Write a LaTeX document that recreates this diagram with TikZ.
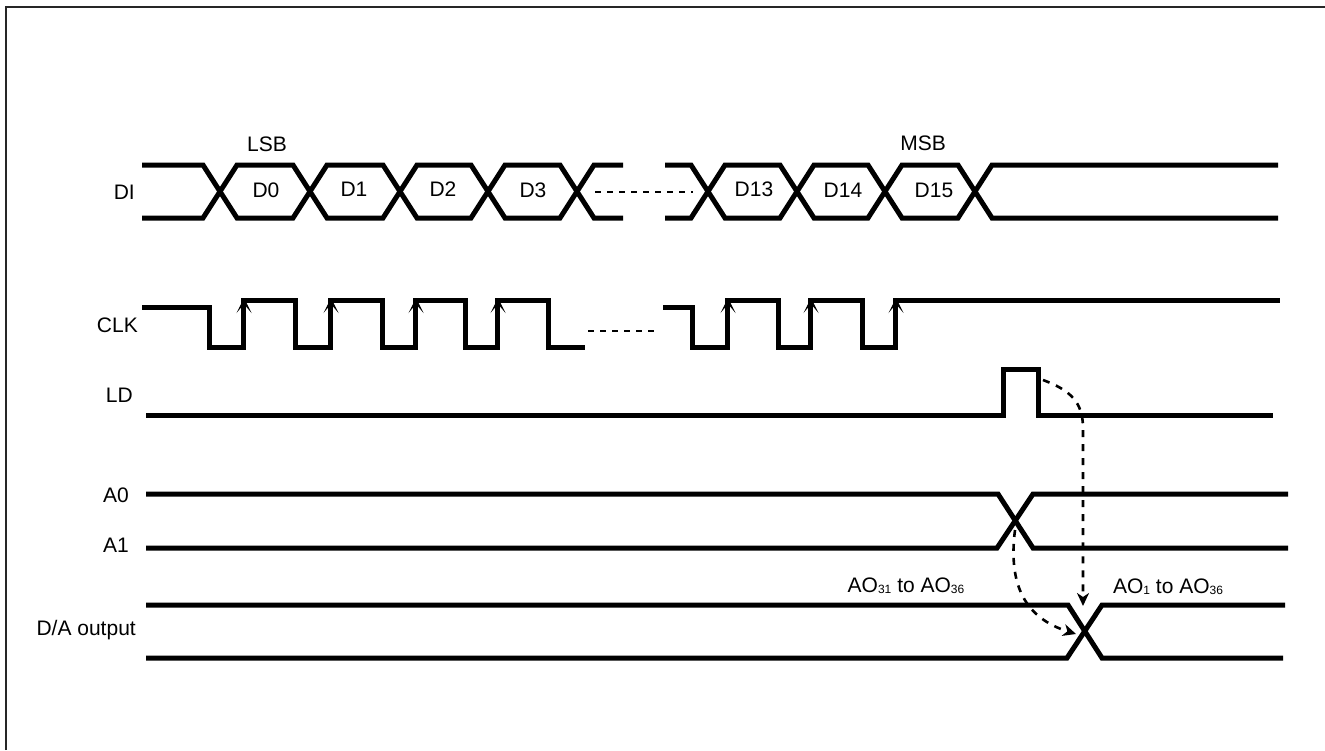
\documentclass[tikz,border=0pt]{standalone}
\usepackage{fontspec}
\setmainfont{Liberation Sans}
\usetikzlibrary{arrows.meta}
\tikzset{
  wave/.style={line width=5pt, line join=miter},
  lbl/.style={font=\fontsize{21}{25}\selectfont, inner sep=0pt},
  gap/.style={line width=1.8pt, dash pattern=on 6pt off 6pt},
  flow/.style={line width=2.6pt, dash pattern=on 7pt off 7pt, -{Stealth[length=13pt,width=12pt,inset=4pt]}},
  edgearrow/.style={line width=1pt, -{Stealth[length=15pt,width=15pt,inset=9pt]}},
  frame/.style={line width=2pt, black!85}
}
\newcommand{\subsc}[1]{\raisebox{-1pt}{\fontsize{12}{13}\selectfont #1}}
\begin{document}
\begin{tikzpicture}[x=1pt,y=-1pt]
\useasboundingbox (0,0) rectangle (1325,750);
\draw[frame] (6,750) -- (6,7) -- (1325,7);

% labels
\node[lbl, anchor=east] (lDI) at (135,192) {DI};
\node[lbl, anchor=east] (lCLK) at (138,325) {CLK};
\node[lbl, anchor=east] (lLD) at (133,395) {LD};
\node[lbl, anchor=east] (lA0) at (129,495) {A0};
\node[lbl, anchor=east] (lA1) at (129,545) {A1};
\node[lbl, anchor=east] (lDA) at (136,630) {D/A output};
\node[lbl] (lsb) at (267,144) {LSB};
\node[lbl] (msb) at (923,143) {MSB};
\node[lbl] (d0) at (266,190) {D0};
\node[lbl] (d1) at (354,189) {D1};
\node[lbl] (d2) at (443,189) {D2};
\node[lbl] (d3) at (533,190) {D3};
\node[lbl] (d13) at (754,189) {D13};
\node[lbl] (d14) at (843,190) {D14};
\node[lbl] (d15) at (934,190) {D15};
\node[lbl] (ao31) at (906,586) {AO\subsc{31} to AO\subsc{36}};
\node[lbl] (ao1) at (1168,587) {AO\subsc{1} to AO\subsc{36}};

% DI
\draw[wave] (142,165)--(203,165)--(237,218)--(293,218)--(327,165)--(383,165)--(417,218)--(471,218)--(505,165)--(560,165)--(594,218)--(623,218);
\draw[wave] (142,218)--(203,218)--(237,165)--(293,165)--(327,218)--(383,218)--(417,165)--(471,165)--(505,218)--(560,218)--(594,165)--(623,165);
\draw[wave] (665,165)--(691,165)--(725,218)--(780,218)--(814,165)--(868,165)--(902,218)--(958,218)--(992,165)--(1278,165);
\draw[wave] (665,218)--(691,218)--(725,165)--(780,165)--(814,218)--(868,218)--(902,165)--(958,165)--(992,218)--(1278,218);
\coordinate (digapA) at (595,192);
\coordinate (digapB) at (693,192);
\draw[gap] (digapA) -- (digapB);

% CLK
\draw[wave] (142,307)--(209,307)--(209,347)--(243,347)--(243,300)--(295,300)--(295,347)--(330,347)--(330,300)--(382,300)--(382,347)--(415,347)--(415,300)--(465,300)--(465,347)--(497,347)--(497,300)--(548,300)--(548,347)--(585,347);
\draw[wave] (663,307)--(692,307)--(692,347)--(727,347)--(727,300)--(778,300)--(778,347)--(810,347)--(810,300)--(862,300)--(862,347)--(895,347)--(895,300)--(1280,300);
\coordinate (ckgapA) at (588,331);
\coordinate (ckgapB) at (658,331);
\draw[gap] (ckgapA) -- (ckgapB);
\foreach \x in {244,331,416,498,728,811,896}
  \draw[edgearrow] (\x,335) -- (\x,298);

% LD
\draw[wave] (146,415)--(1003,415)--(1003,369)--(1038,369)--(1038,415)--(1273,415);

% A0 / A1
\draw[wave] (146,494)--(998,494)--(1033,548)--(1288,548);
\draw[wave] (146,548)--(997,548)--(1033,494)--(1288,494);

% D/A output
\draw[wave] (146,605)--(1068,605)--(1102,658)--(1283,658);
\draw[wave] (146,658)--(1067,658)--(1102,605)--(1285,605);

% causal arrows
\coordinate (ldfall) at (1043,380);
\coordinate (daX) at (1084,631);
\coordinate (aX) at (1015,530);
\draw[flow] (ldfall) .. controls (1070,390) and (1083,402) .. (1083,428) -- (1083,606);
\draw[flow] (aX) .. controls (1008,585) and (1025,618) .. (1076,634);
\end{tikzpicture}
\end{document}
